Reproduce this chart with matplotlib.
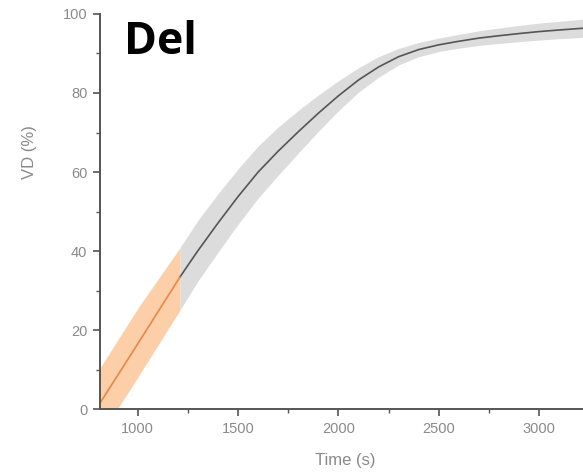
import matplotlib
matplotlib.use('Agg')
import numpy as np
import matplotlib.pyplot as plt
from matplotlib.ticker import MultipleLocator

# orange segment (early phase)
t_early = [812, 1000, 1210]
vd_early = [1.5, 16.5, 33.4]
vd_early_lo = [-6.8, 8.0, 25.0]
vd_early_hi = [10.4, 25.5, 40.8]

# gray segment (fitted curve)
t_fit = [1210, 1300, 1400, 1500, 1600, 1700, 1800, 1900, 2000, 2100, 2200,
         2300, 2400, 2500, 2600, 2700, 2800, 2900, 3000, 3100, 3220]
vd_fit = [33.4, 40.1, 47.1, 53.8, 60.0, 65.3, 70.2, 74.9, 79.3, 83.3, 86.6,
          89.2, 91.0, 92.2, 93.1, 93.9, 94.5, 95.05, 95.55, 95.95, 96.4]
vd_fit_lo = [25.0, 32.4, 39.7, 46.8, 53.4, 59.2, 64.8, 70.3, 75.5, 80.2, 84.0,
             87.1, 89.2, 90.5, 91.35, 92.05, 92.55, 93.0, 93.4, 93.75, 94.1]
vd_fit_hi = [40.8, 47.8, 54.5, 60.8, 66.6, 71.4, 75.6, 79.5, 83.1, 86.4, 89.2,
             91.3, 92.8, 93.9, 94.85, 95.75, 96.45, 97.1, 97.7, 98.15, 98.7]

xticks = [1000, 1500, 2000, 2500, 3000]
yticks = [0, 20, 40, 60, 80, 100]

fig = plt.figure(figsize=(5.83, 4.74), dpi=100)
ax = fig.add_axes([0.1715, 0.137, 0.8285, 0.8335])

ax.fill_between(t_fit, vd_fit_lo, vd_fit_hi, color='#dcdcdc', lw=0)
ax.plot(t_fit, vd_fit, color='#555555', lw=1.2)
ax.fill_between(t_early, vd_early_lo, vd_early_hi, color='#fdcfa8', lw=0)
ax.plot(t_early, vd_early, color='#e8864a', lw=1.2)

ax.set_xlim(812, 3218)
ax.set_ylim(0, 100)
ax.set_xticks(xticks)
ax.set_yticks(yticks)
ax.xaxis.set_minor_locator(MultipleLocator(250))
ax.yaxis.set_minor_locator(MultipleLocator(10))

for s in ['top', 'right']:
    ax.spines[s].set_visible(False)
for s in ['left', 'bottom']:
    ax.spines[s].set_color('#555555')
    ax.spines[s].set_linewidth(1.4)

ax.tick_params(which='major', direction='out', length=5, width=1.2,
               color='#555555', labelcolor='#8a8a8a', labelsize=10.5, pad=4)
ax.tick_params(which='minor', direction='out', length=3, width=1.0, color='#555555')
for lab in ax.get_xticklabels() + ax.get_yticklabels():
    lab.set_family('Liberation Sans')

ax.set_xlabel('Time (s)', color='#8a8a8a', fontsize=12, family='Liberation Sans')
ax.set_ylabel('VD (%)', color='#8a8a8a', fontsize=12, family='Liberation Sans')
ax.xaxis.set_label_coords(0.507, -0.112)
ax.yaxis.set_label_coords(-0.13, 0.65)

ax.text(0.05, 0.985, 'Del', transform=ax.transAxes, fontsize=32,
        fontweight='bold', family='Open Sans', color='black', va='top', ha='left')

fig.savefig('out.png', dpi=100)
